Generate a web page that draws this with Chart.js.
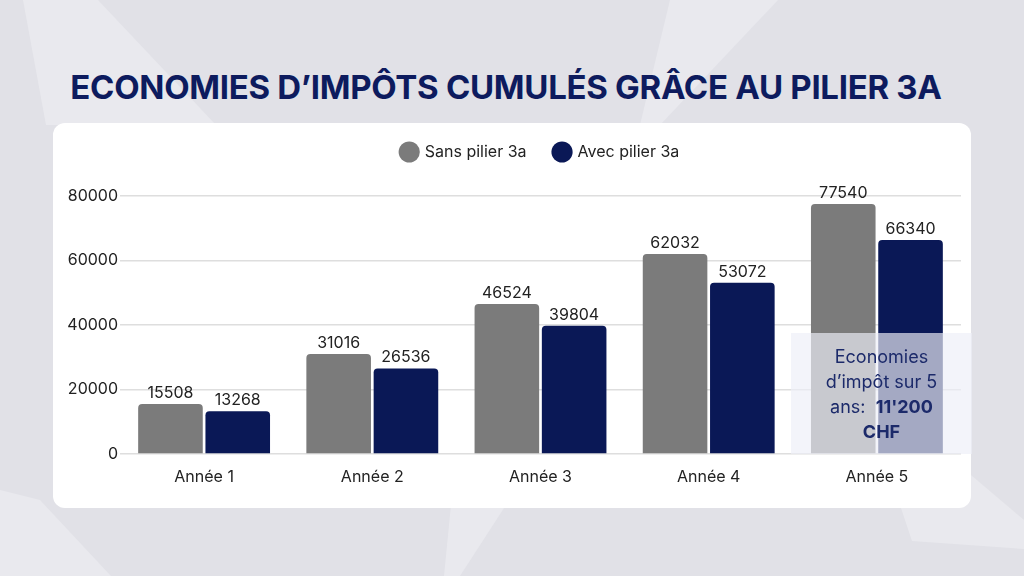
<!DOCTYPE html>
<html>
<head>
<meta charset="utf-8">
<script src="https://cdn.jsdelivr.net/npm/chart.js@4.4.1/dist/chart.umd.min.js"></script>
<style>
  html, body { margin: 0; padding: 0; }
  body { width: 1024px; height: 576px; position: relative; overflow: hidden; background: #e1e1e7; font-family: "Inter", sans-serif; }
  #bg { position: absolute; left: 0; top: 0; }
  h1 { position: absolute; left: 0; width: 1012px; top: 62px; margin: 0; text-align: center; font-family: "Inter", sans-serif; font-weight: 700; font-size: 33px; line-height: 50px; color: #0d1b5e; letter-spacing: -0.3px; }
  .card { position: absolute; left: 53px; top: 123px; width: 918px; height: 385px; background: #fff; border-radius: 12px; }
  #chart { position: absolute; left: 0; top: 0; }
  .note { position: absolute; left: 791px; top: 333px; width: 181px; height: 121px; background: rgba(238, 239, 247, 0.68); color: #1c2a6a; font-size: 18px; line-height: 25px; text-align: center; display: flex; align-items: center; justify-content: center; }
  .note b { font-weight: 700; }
</style>
</head>
<body>
<svg id="bg" width="1024" height="576">
  <polygon points="23,0 98,0 216,125 46,125" fill="#e9e9ee"/>
  <polygon points="670,0 778,0 660,125 640,125" fill="#e9e9ee"/>
  <polygon points="0,490 0,576 111,576 40,500" fill="#e9e9ee"/>
  <polygon points="451,505 506,505 460,576 444,576" fill="#e9e9ee"/>
  <polygon points="900,505 912,541 1024,549 1024,520 965,470" fill="#e9e9ee"/>
</svg>
<h1>ECONOMIES D’IMPÔTS CUMULÉS GRÂCE AU PILIER 3A</h1>
<div class="card"></div>
<canvas id="chart" width="1024" height="576"></canvas>
<div class="note"><div>Economies<br>d’impôt sur 5<br>ans:&nbsp; <b>11'200</b><br><b>CHF</b></div></div>

<script>
// données du graphique
const annees = ["Année 1", "Année 2", "Année 3", "Année 4", "Année 5"];
const sansPilier = [15508, 31016, 46524, 62032, 77540];
const avecPilier = [13268, 26536, 39804, 53072, 66340];
const yTicks = [0, 20000, 40000, 60000, 80000];

const gris = "#7b7b7b";
const marine = "#0a1856";

// valeurs au-dessus des barres
const valeursPlugin = {
  id: "valeurs",
  afterDatasetsDraw(chart) {
    const ctx = chart.ctx;
    ctx.save();
    ctx.font = "16px Inter";
    ctx.fillStyle = "#222";
    ctx.textAlign = "center";
    ctx.textBaseline = "alphabetic";
    chart.data.datasets.forEach((ds, i) => {
      chart.getDatasetMeta(i).data.forEach((bar, j) => {
        ctx.fillText(ds.data[j], bar.x, bar.y - 6);
      });
    });
    ctx.restore();
  }
};

// espace sous la légende
const legendeEspace = {
  id: "legendeEspace",
  beforeInit(chart) {
    const fit = chart.legend.fit;
    chart.legend.fit = function () {
      fit.bind(chart.legend)();
      this.height += 26;
    };
  }
};

new Chart(document.getElementById("chart"), {
  type: "bar",
  data: {
    labels: annees,
    datasets: [
      { label: "Sans pilier 3a", data: sansPilier, backgroundColor: gris },
      { label: "Avec pilier 3a", data: avecPilier, backgroundColor: marine }
    ]
  },
  options: {
    responsive: false,
    animation: false,
    layout: { padding: { left: 60, right: 63, top: 116, bottom: 92 } },
    datasets: {
      bar: {
        categoryPercentage: 0.8,
        barPercentage: 0.96,
        borderRadius: { topLeft: 4, topRight: 4 },
        borderSkipped: "bottom"
      }
    },
    plugins: {
      legend: {
        position: "top",
        fullSize: false,
        labels: {
          usePointStyle: true,
          pointStyle: "circle",
          boxWidth: 15,
          boxHeight: 15,
          padding: 28,
          color: "#222",
          font: { family: "Inter", size: 16 }
        }
      },
      tooltip: { enabled: false }
    },
    scales: {
      x: {
        grid: { display: false },
        border: { display: false },
        ticks: { color: "#222", padding: 6, font: { family: "Inter", size: 16 } },
        afterFit(scale) { scale.height = 30; }
      },
      y: {
        min: 0,
        max: 80000,
        afterBuildTicks(scale) { scale.ticks = yTicks.map(v => ({ value: v })); },
        grid: { color: "#dedede", lineWidth: 1.5, drawTicks: false },
        border: { display: false },
        ticks: { color: "#222", padding: 2, font: { family: "Inter", size: 16 }, callback: v => String(v) },
        afterFit(scale) { scale.width = 60; }
      }
    }
  },
  plugins: [valeursPlugin, legendeEspace]
});
</script>
</body>
</html>
